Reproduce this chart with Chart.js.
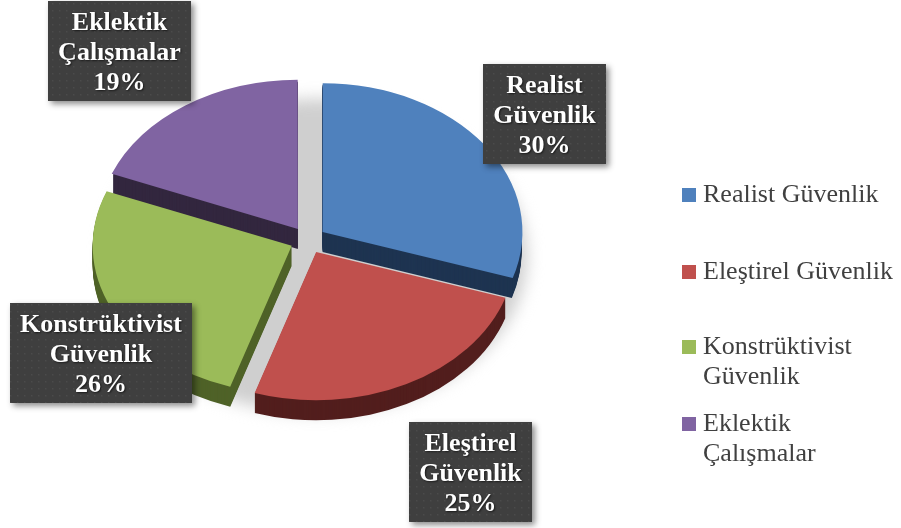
<!DOCTYPE html>
<html>
<head>
<meta charset="utf-8">
<script src="https://cdn.jsdelivr.net/npm/chart.js@4.4.1/dist/chart.umd.min.js"></script>
<style>
  body { margin: 0; background: #fff; overflow: hidden; }
  #wrap { position: relative; width: 901px; height: 528px; }
  canvas { position: absolute; left: 0; top: 0; }
  .item { position: absolute; left: 682px; display: flex; font: 26px/30px "Liberation Serif", "Times New Roman", serif; color: #404040; }
  .swatch { width: 14px; height: 14px; margin-top: 9px; margin-right: 7px; flex: none; }
  .text { width: 200px; }
</style>
</head>
<body>
<div id="wrap">
  <canvas id="pie" width="901" height="528"></canvas>
  <div id="legend"></div>
</div>
<script>
const categories = ["Realist Güvenlik", "Eleştirel Güvenlik", "Konstrüktivist Güvenlik", "Eklektik Çalışmalar"];
const values = [30, 25, 26, 19];
const labelLines = [["Realist", "Güvenlik"], ["Eleştirel", "Güvenlik"], ["Konstrüktivist", "Güvenlik"], ["Eklektik", "Çalışmalar"]];
const faceColors = ["#4f81bd", "#c0504d", "#9bbb59", "#8064a2"];
const sideColors = ["#1e3451", "#521e1d", "#4f6228", "#33273f"];

// layout helpers (not data)
const TILT = 0.745;
const DEPTH = 20;
const labelCenters = [[544, 114], [470, 472], [101, 353], [119, 51]];
const legendTops = [179, 256, 331, 408];

// dotted fill for the label boxes
const dots = document.createElement("canvas");
dots.width = 7; dots.height = 7;
const dctx = dots.getContext("2d");
dctx.fillStyle = "#3f3f3f";
dctx.fillRect(0, 0, 7, 7);
dctx.fillStyle = "#4b4b4b";
dctx.fillRect(3, 3, 1.5, 1.5);

function slicePath(ctx, arc, dy) {
  const off = (arc.options.offset || 0) / 4;
  const half = (arc.startAngle + arc.endAngle) / 2;
  const x = arc.x + Math.cos(half) * off;
  const y = arc.y + Math.sin(half) * off + dy;
  ctx.beginPath();
  ctx.moveTo(x, y);
  ctx.arc(x, y, arc.outerRadius, arc.startAngle, arc.endAngle);
  ctx.closePath();
}

const pie3d = {
  id: "pie3d",
  beforeDatasetsDraw(chart) {
    const ctx = chart.ctx;
    const arcs = chart.getDatasetMeta(0).data;
    const cx = arcs[0].x, cy = arcs[0].y;
    ctx.save();
    ctx.translate(cx, cy);
    ctx.scale(1, TILT);
    ctx.translate(-cx, -cy);

    // soft ground shadow
    ctx.save();
    ctx.filter = "blur(8px)";
    ctx.fillStyle = "#cfcfcf";
    ctx.beginPath();
    ctx.arc(cx + 8, cy + 16 / TILT, arcs[0].outerRadius + 12, 0, Math.PI * 2);
    ctx.fill();
    ctx.restore();

    // side walls
    for (let k = DEPTH; k > 0; k--) {
      arcs.forEach((arc, i) => {
        slicePath(ctx, arc, k / TILT);
        ctx.fillStyle = sideColors[i];
        ctx.fill();
      });
    }
  },
  afterDatasetsDraw(chart) {
    chart.ctx.restore();
  },
  afterDraw(chart) {
    const ctx = chart.ctx;
    const pattern = ctx.createPattern(dots, "repeat");
    const total = values.reduce((a, b) => a + b, 0);
    ctx.save();
    ctx.font = "bold 26px 'Liberation Serif', 'Times New Roman', serif";
    ctx.textAlign = "center";
    labelLines.forEach((lines, i) => {
      const all = lines.concat(Math.round(values[i] / total * 100) + "%");
      const w = Math.round(Math.max(...all.map(t => ctx.measureText(t).width)) + 20);
      const h = 100;
      const x = Math.round(labelCenters[i][0] - w / 2);
      const y = Math.round(labelCenters[i][1] - h / 2);

      ctx.save();
      ctx.shadowColor = "rgba(0,0,0,0.45)";
      ctx.shadowBlur = 6;
      ctx.shadowOffsetX = 3;
      ctx.shadowOffsetY = 3;
      ctx.fillStyle = "#3f3f3f";
      ctx.fillRect(x, y, w, h);
      ctx.restore();
      ctx.fillStyle = pattern;
      ctx.fillRect(x, y, w, h);

      ctx.save();
      ctx.shadowColor = "rgba(0,0,0,0.6)";
      ctx.shadowBlur = 2;
      ctx.shadowOffsetX = 1;
      ctx.shadowOffsetY = 1;
      ctx.fillStyle = "#ffffff";
      all.forEach((t, j) => ctx.fillText(t, x + w / 2, y + 29 + j * 30));
      ctx.restore();
    });
    ctx.restore();
  }
};

new Chart(document.getElementById("pie"), {
  type: "pie",
  data: {
    labels: categories,
    datasets: [{
      data: values,
      backgroundColor: faceColors,
      borderWidth: 0,
      offset: 72
    }]
  },
  options: {
    responsive: false,
    animation: false,
    radius: 199,
    layout: { padding: { left: 0, right: 285, top: 0, bottom: 48 } },
    plugins: {
      legend: { display: false },
      tooltip: { enabled: false }
    }
  },
  plugins: [pie3d]
});

// legend
const legendEl = document.getElementById("legend");
categories.forEach((name, i) => {
  const item = document.createElement("div");
  item.className = "item";
  item.style.top = legendTops[i] + "px";
  item.innerHTML = `<span class="swatch" style="background:${faceColors[i]}"></span><span class="text">${name}</span>`;
  legendEl.appendChild(item);
});
</script>
</body>
</html>
